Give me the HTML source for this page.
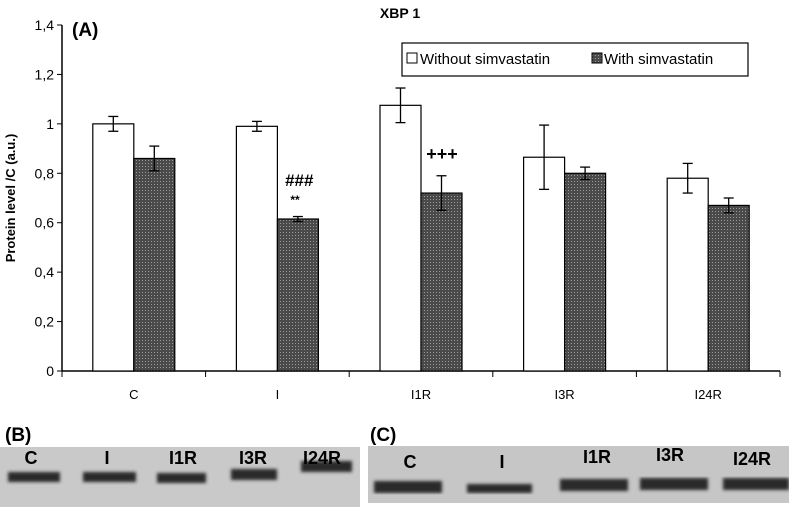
<!DOCTYPE html>
<html><head><meta charset="utf-8"><style>
body{margin:0;background:#fff;width:789px;height:508px;overflow:hidden;font-family:"Liberation Sans",Arial,sans-serif}
</style></head><body>
<svg id="chart" width="789" height="508" xmlns="http://www.w3.org/2000/svg" font-family="Liberation Sans, Arial, sans-serif">
<defs>
<pattern id="dots" width="3" height="3" patternUnits="userSpaceOnUse">
<rect width="3" height="3" fill="#4a4a4a"/><rect x="1" y="1" width="1" height="1" fill="#9a9a9a"/>
</pattern>
<filter id="blur"><feGaussianBlur stdDeviation="1.5"/></filter>
</defs>
<text x="400" y="18" font-size="14" font-weight="bold" text-anchor="middle">XBP 1</text>
<text x="72" y="36" font-size="19" font-weight="bold">(A)</text>
<text transform="translate(15,198) rotate(-90)" font-size="13" font-weight="bold" text-anchor="middle">Protein level /C (a.u.)</text>
<g id="axes"></g>
<g id="bars"></g>
<g>
<rect x="402" y="43" width="346" height="33" fill="#fff" stroke="#000" stroke-width="1.2"/>
<rect x="407" y="53" width="10" height="10" fill="#fff" stroke="#000"/>
<text x="420" y="64" font-size="15">Without simvastatin</text>
<rect x="592" y="53" width="10" height="10" fill="url(#dots)" stroke="#000"/>
<text x="604" y="64" font-size="15">With simvastatin</text>
</g>
<text x="299" y="186" font-size="17" font-weight="bold" font-style="italic" text-anchor="middle">###</text>
<text x="295" y="204" font-size="12" font-weight="bold" text-anchor="middle">**</text>
<text x="442" y="160" font-size="18" font-weight="bold" text-anchor="middle">+++</text>
<text x="5" y="441" font-size="19" font-weight="bold">(B)</text>
<text x="370" y="441" font-size="19" font-weight="bold">(C)</text>
<g>
<rect x="0" y="447" width="360" height="60" fill="#c9c9c9"/>
<g filter="url(#blur)" fill="#2a2a2a">
<rect x="8" y="472" width="52" height="10"/><rect x="83" y="472" width="53" height="10"/><rect x="157" y="473" width="49" height="10"/><rect x="231" y="469" width="46" height="11"/><rect x="301" y="461" width="51" height="11"/>
</g>
<g font-size="18" font-weight="bold" text-anchor="middle"><text x="31" y="464">C</text><text x="107" y="464">I</text><text x="183" y="464">I1R</text><text x="253" y="464">I3R</text><text x="322" y="464">I24R</text></g>
</g>
<g>
<rect x="368" y="446" width="421" height="57" fill="#c6c6c6"/>
<g filter="url(#blur)" fill="#2a2a2a">
<rect x="374" y="481" width="68" height="12"/><rect x="467" y="484" width="65" height="9"/><rect x="560" y="479" width="68" height="12"/><rect x="640" y="478" width="68" height="12"/><rect x="723" y="478" width="66" height="12"/>
</g>
<g font-size="18" font-weight="bold" text-anchor="middle"><text x="410" y="468">C</text><text x="502" y="468">I</text><text x="597" y="463">I1R</text><text x="670" y="461">I3R</text><text x="752" y="465">I24R</text></g>
</g>
</svg>
<script>
const categories=["C","I","I1R","I3R","I24R"];
const without=[1.0,0.99,1.075,0.865,0.78];
const withS=[0.86,0.615,0.72,0.80,0.67];
const errWithout=[0.03,0.02,0.07,0.13,0.06];
const errWith=[0.05,0.01,0.07,0.025,0.03];
const yTicks=["0","0,2","0,4","0,6","0,8","1","1,2","1,4"];
const NS="http://www.w3.org/2000/svg";
const x0=62,x1=780,y0=371,yTop=25,yMax=1.4;
const band=(x1-x0)/categories.length;
const yS=v=>y0-(v/yMax)*(y0-yTop);
const xC=i=>x0+band*(i+0.5);
function mk(t,a,p){const e=document.createElementNS(NS,t);for(const k in a)e.setAttribute(k,a[k]);p.appendChild(e);return e;}
const ax=document.getElementById('axes'),bg=document.getElementById('bars');
let l=mk('line',{x1:x0,y1:yTop,x2:x0,y2:y0,stroke:'#000','stroke-width':1.5},ax);


l=mk('line',{x1:x0,y1:y0,x2:x1,y2:y0,stroke:'#000','stroke-width':1.5},ax);


yTicks.forEach((t,i)=>{const v=i*0.2,y=yS(v);
mk('line',{x1:x0-5,y1:y,x2:x0,y2:y,stroke:'#000'},ax);
const tx=mk('text',{x:x0-8,y:y+5,'font-size':14,'text-anchor':'end'},ax);tx.textContent=t;

});
for(let i=0;i<=categories.length;i++){const x=x0+band*i;mk('line',{x1:x,y1:y0,x2:x,y2:y0+6,stroke:'#000'},ax);}
const bw=41;
categories.forEach((c,i)=>{const cx=xC(i);
const tx=mk('text',{x:cx,y:y0+28,'font-size':13,'text-anchor':'middle'},ax);tx.textContent=c;


[[without[i],errWithout[i],cx-bw,'#fff','without'],[withS[i],errWith[i],cx,'url(#dots)','with']].forEach(([v,e,x,f,n])=>{
const r=mk('rect',{x:x,y:yS(v),width:bw,height:y0-yS(v),fill:f,stroke:'#000','stroke-width':1.2},bg);


const ex=x+bw/2,yt=yS(v+e),yb=yS(v-e);
const g=mk('g',{stroke:'#000','stroke-width':1.3},bg);


mk('line',{x1:ex,y1:yt,x2:ex,y2:yb},g);mk('line',{x1:ex-5,y1:yt,x2:ex+5,y2:yt},g);mk('line',{x1:ex-5,y1:yb,x2:ex+5,y2:yb},g);
});});
</script>
</body></html>
